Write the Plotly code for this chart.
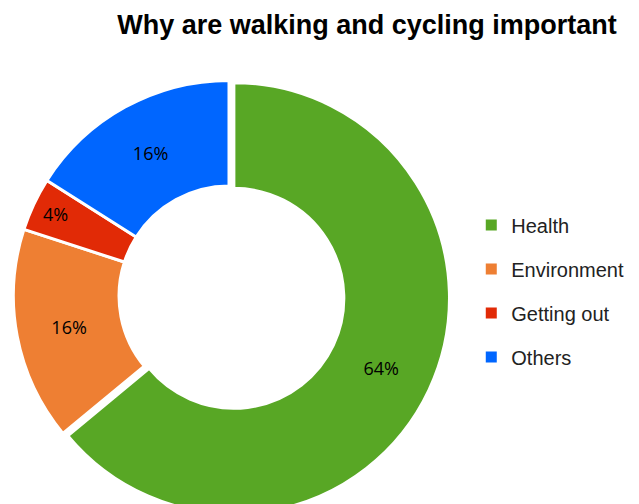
import plotly.graph_objects as go

labels = ["Health", "Environment", "Getting out", "Others"]
values = [64, 16, 4, 16]
colors = ["#58A725", "#EE7F33", "#E12A06", "#0066FF"]
pulls = [0.025, 0, 0, 0]

W, H = 639, 530  # page is taller than the window, so the bottom of the ring is cut like the original

fig = go.Figure()

fig.add_trace(go.Pie(
    labels=labels,
    values=values,
    hole=0.51,
    sort=False,
    direction="clockwise",
    rotation=0,
    pull=pulls,
    marker=dict(colors=colors, line=dict(color="white", width=3)),
    textinfo="percent",
    texttemplate="%{percent:.0%}",
    textposition="inside",
    insidetextorientation="horizontal",
    textfont=dict(family="Open Sans", size=18, color="black"),
    showlegend=False,
    domain=dict(x=[0, 442 / W], y=[1 - 509 / H, 1 - 67 / H]),
))

# legend entries built from the same lists
for lab, col in zip(labels, colors):
    fig.add_trace(go.Scatter(
        x=[None], y=[None], mode="markers",
        marker=dict(symbol="square", size=11, color=col),
        name=lab, legendgroup=lab,
    ))

fig.update_layout(
    width=W, height=H,
    margin=dict(l=0, r=0, t=0, b=0),
    paper_bgcolor="white", plot_bgcolor="white",
    title=dict(text="<b>Why are walking and cycling important</b>",
               x=359 / W, xanchor="center", y=1 - 17 / H, yanchor="middle",
               font=dict(family="Liberation Sans, Arial", size=27, color="black")),
    xaxis=dict(visible=False), yaxis=dict(visible=False),
    legend=dict(x=0.725, xanchor="left", y=1 - 283 / H, yanchor="middle",
                font=dict(family="Liberation Sans, Arial", size=20, color="#222"),
                tracegroupgap=15, itemwidth=30),
)

fig.write_html("out.html")
